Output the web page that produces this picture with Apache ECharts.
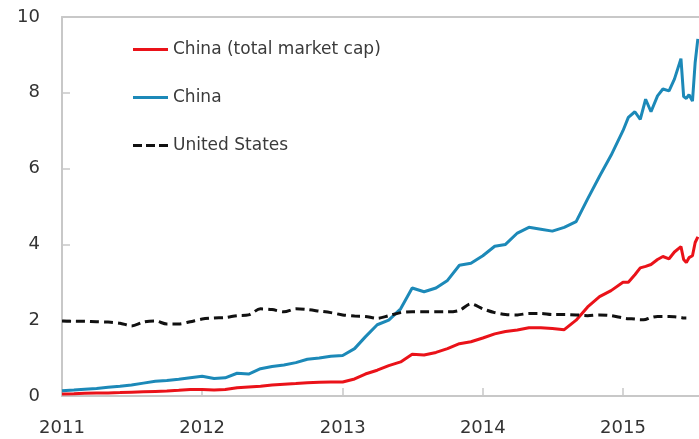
<!DOCTYPE html>
<html>
<head>
    <meta charset="utf-8">
    <title>Market cap to GDP</title>
    <script src="https://cdn.jsdelivr.net/npm/echarts@6/dist/echarts.min.js"></script>
    <style>
        html, body { margin: 0; padding: 0; background: #fff; }
        #chart { width: 699px; height: 439px; }
    </style>
</head>
<body>
<div id="chart"></div>
<script>
    // dates (monthly, then half-monthly in 2015)
    var dates = [
        '2011-01-01','2011-02-01','2011-03-01','2011-04-01','2011-05-01','2011-06-01',
        '2011-07-01','2011-08-01','2011-09-01','2011-10-01','2011-11-01','2011-12-01',
        '2012-01-01','2012-02-01','2012-03-01','2012-04-01','2012-05-01','2012-06-01',
        '2012-07-01','2012-08-01','2012-09-01','2012-10-01','2012-11-01','2012-12-01',
        '2013-01-01','2013-02-01','2013-03-01','2013-04-01','2013-05-01','2013-06-01',
        '2013-07-01','2013-08-01','2013-09-01','2013-10-01','2013-11-01','2013-12-01',
        '2014-01-01','2014-02-01','2014-03-01','2014-04-01','2014-05-01','2014-06-01',
        '2014-07-01','2014-08-01','2014-09-01','2014-10-01','2014-11-01','2014-12-01',
        '2015-01-01','2015-01-15','2015-02-01','2015-02-15','2015-03-01','2015-03-15',
        '2015-04-01','2015-04-15','2015-05-01','2015-05-15','2015-06-01','2015-06-08',
        '2015-06-15','2015-06-22','2015-07-01','2015-07-08','2015-07-15'
    ];
    var chinaTotal = [
        0.05,0.06,0.07,0.08,0.08,0.09, 0.10,0.11,0.12,0.13,0.15,0.17,
        0.17,0.16,0.17,0.22,0.24,0.26, 0.29,0.31,0.33,0.35,0.36,0.37,
        0.37,0.45,0.58,0.68,0.80,0.90, 1.10,1.08,1.15,1.25,1.38,1.43,
        1.53,1.64,1.70,1.74,1.80,1.80, 1.78,1.75,2.00,2.35,2.62,2.78,
        3.00,3.00,3.20,3.38,3.42,3.47, 3.60,3.68,3.62,3.80,3.94,3.60,
        3.52,3.65,3.70,4.05,4.20
    ];
    var china = [
        0.14,0.16,0.18,0.20,0.23,0.26, 0.29,0.34,0.39,0.41,0.44,0.48,
        0.52,0.46,0.48,0.60,0.58,0.72, 0.78,0.82,0.88,0.97,1.00,1.05,
        1.07,1.25,1.56,1.88,2.00,2.30, 2.85,2.75,2.85,3.05,3.45,3.50,
        3.70,3.95,4.00,4.30,4.45,4.40, 4.35,4.45,4.60,5.20,5.80,6.35,
        7.00,7.35,7.50,7.30,7.83,7.50, 7.92,8.10,8.05,8.36,8.90,7.90,
        7.85,7.95,7.78,8.80,9.42
    ];
    var unitedStates = [
        1.98,1.97,1.97,1.96,1.95,1.92, 1.85,1.95,1.98,1.90,1.90,1.96,
        2.03,2.06,2.07,2.12,2.14,2.30, 2.28,2.22,2.30,2.28,2.24,2.20,
        2.14,2.11,2.10,2.05,2.12,2.20, 2.22,2.22,2.22,2.22,2.26,2.43,
        2.30,2.20,2.15,2.14,2.18,2.18, 2.15,2.15,2.14,2.12,2.14,2.12,
        2.06,2.04,2.03,2.01,2.02,2.07, 2.10,2.10,2.10,2.09,2.07,2.06,
        2.06,null,null,null,null
    ];
    var seriesNames = ['China (total market cap)', 'China', 'United States'];

    function pairs(vals) {
        return dates.map(function (d, i) { return [d, vals[i]]; });
    }

    // legend keys: plain bar and dashed bar
    var solidKey = 'path://M0,0H35V3H0Z';
    var dashKey = 'path://M0,0H9V3H0Z M13,0H22V3H13Z M26,0H35V3H26Z';

    var myChart = echarts.init(document.getElementById('chart'));
    var font = 'DejaVu Sans';
    var option = {
        animation: false,
        grid: { left: 62, right: 0, top: 17, bottom: 43 },
        legend: {
            orient: 'vertical',
            left: 128,
            top: 36,
            itemWidth: 35,
            itemHeight: 3,
            itemGap: 31,
            textStyle: { fontFamily: font, fontSize: 17, color: '#3a3a3a' },
            data: [
                { name: seriesNames[0], icon: solidKey },
                { name: seriesNames[1], icon: solidKey },
                { name: seriesNames[2], icon: dashKey }
            ]
        },
        xAxis: [{
            type: 'time',
            min: '2011-01-01',
            max: '2015-07-18',
            minInterval: 365 * 24 * 3600 * 1000,
            maxInterval: 366 * 24 * 3600 * 1000,
            axisLine: { lineStyle: { color: '#c8c8c8', width: 2 } },
            axisTick: { show: true, inside: true, length: 8, lineStyle: { color: '#c8c8c8', width: 1.5 } },
            axisLabel: {
                formatter: '{yyyy}', margin: 23, showMinLabel: true,
                alignMaxLabel: 'center',
                fontFamily: font, fontSize: 18, color: '#333'
            },
            splitLine: { show: false }
        }, {
            type: 'time',
            position: 'top',
            min: '2011-01-01',
            max: '2015-07-18',
            axisLine: { show: true, lineStyle: { color: '#c8c8c8', width: 2 } },
            axisTick: { show: false },
            axisLabel: { show: false },
            splitLine: { show: false }
        }],
        yAxis: {
            type: 'value',
            min: 0,
            max: 10,
            interval: 2,
            axisLine: { show: true, lineStyle: { color: '#c8c8c8', width: 2 } },
            axisTick: { show: true, inside: true, length: 8, lineStyle: { color: '#c8c8c8', width: 1.5 } },
            axisLabel: { margin: 22, fontFamily: font, fontSize: 18, color: '#333' },
            splitLine: { show: false }
        },
        series: [{
            name: seriesNames[0],
            type: 'line',
            symbol: 'none',
            color: '#ea1219',
            lineStyle: { width: 3, color: '#ea1219' },
            data: pairs(chinaTotal)
        }, {
            name: seriesNames[1],
            type: 'line',
            symbol: 'none',
            color: '#1c89b8',
            lineStyle: { width: 3, color: '#1c89b8' },
            data: pairs(china)
        }, {
            name: seriesNames[2],
            type: 'line',
            symbol: 'none',
            smooth: 0.3,
            color: '#111',
            lineStyle: { width: 3, color: '#111', type: [9, 5] },
            data: pairs(unitedStates)
        }]
    };
    myChart.setOption(option);
</script>
</body>
</html>
